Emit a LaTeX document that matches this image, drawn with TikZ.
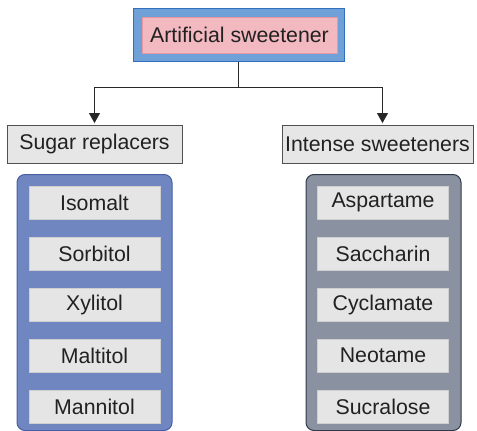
\documentclass[tikz,border=0pt]{standalone}
\usepackage{fontspec}
\setmainfont{Liberation Sans}
\usetikzlibrary{arrows.meta}
\definecolor{topblue}{RGB}{111,160,216}
\definecolor{topblueb}{RGB}{50,110,190}
\definecolor{pinkf}{RGB}{243,185,192}
\definecolor{pinkb}{RGB}{232,150,160}
\definecolor{grayf}{RGB}{230,230,230}
\definecolor{grayb}{RGB}{80,80,80}
\definecolor{leftf}{RGB}{112,134,192}
\definecolor{leftb}{RGB}{70,96,168}
\definecolor{rightf}{RGB}{138,146,162}
\definecolor{rightb}{RGB}{48,58,74}
\definecolor{itemf}{RGB}{229,229,229}
\definecolor{linec}{RGB}{40,40,40}
\tikzset{
  txt/.style={font=\fontsize{21.3}{25}\selectfont, text=black!87, inner sep=0pt},
  catbox/.style={txt, draw=grayb, line width=0.9pt, fill=grayf, minimum height=38pt},
  itembox/.style={txt, fill=itemf, draw=itemf!90!black, line width=0.4pt, minimum width=131pt, minimum height=33pt},
  conn/.style={draw=linec, line width=1pt},
  arr/.style={conn, -{Triangle[length=10pt,width=11pt]}, shorten >=1.5pt},
}
\begin{document}
\begin{tikzpicture}[x=1pt,y=-1pt]
\useasboundingbox (0,0) rectangle (477,431);
% top box
\node[draw=topblueb, line width=1pt, fill=topblue, minimum width=211pt, minimum height=53pt, inner sep=0pt] (topo) at (238.5,34.5) {};
\node[txt, draw=pinkb, line width=0.6pt, fill=pinkf, minimum width=195pt, minimum height=36pt] (top) at (239.5,35) {Artificial sweetener};
% categories
\node[catbox, minimum width=175pt] (sugar) at (94.5,144) {Sugar replacers};
\node[catbox, minimum width=191pt] (intense) at (377.5,144) {Intense sweeteners};
% containers
\node[draw=leftb, line width=1pt, fill=leftf, rounded corners=8pt, minimum width=155pt, minimum height=256pt, inner sep=0pt] (lc) at (94.5,302.5) {};
\node[draw=rightb, line width=1pt, fill=rightf, rounded corners=8pt, minimum width=155pt, minimum height=256pt, inner sep=0pt] (rc) at (383.5,302.5) {};
% items
\node[itembox] (l1) at (94.5,202.5) {Isomalt};
\node[itembox] (l2) at (94.5,253.5) {Sorbitol};
\node[itembox] (l3) at (94.5,304.5) {Xylitol};
\node[itembox] (l4) at (94.5,355.5) {Maltitol};
\node[itembox] (l5) at (94.5,406.5) {Mannitol};
\node[itembox] (r1) at (383,202.5) {Aspartame};
\node[itembox] (r2) at (383,253.5) {Saccharin};
\node[itembox] (r3) at (383,304.5) {Cyclamate};
\node[itembox] (r4) at (383,355.5) {Neotame};
\node[itembox] (r5) at (383,406.5) {Sucralose};
% connectors
\coordinate (j) at (238.5,87.5);
\draw[conn] (topo.south) -- (j);
\draw[arr] (j) -| (sugar.north);
\draw[arr] (j) -| ([xshift=5pt]intense.north);
\end{tikzpicture}
\end{document}
